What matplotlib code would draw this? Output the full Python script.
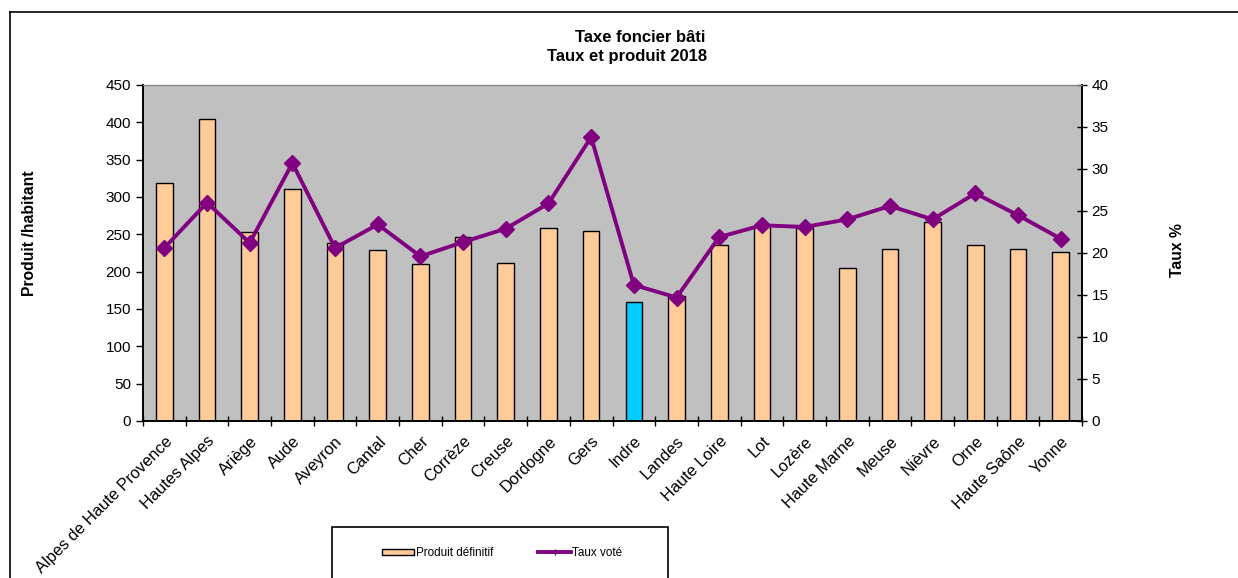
import numpy as np
import matplotlib.pyplot as plt
from matplotlib.patches import Rectangle
from matplotlib.lines import Line2D

plt.rcParams['font.family'] = ['Liberation Sans', 'DejaVu Sans']

departements = ["Alpes de Haute Provence", "Hautes Alpes", "Ariège", "Aude", "Aveyron",
                "Cantal", "Cher", "Corrèze", "Creuse", "Dordogne", "Gers", "Indre",
                "Landes", "Haute Loire", "Lot", "Lozère", "Haute Marne", "Meuse",
                "Nièvre", "Orne", "Haute Saône", "Yonne"]
produit = [319, 405, 253, 311, 239, 229, 210, 247, 212, 258, 255, 160,
           167, 236, 262, 259, 205, 230, 266, 236, 230, 227]
taux = [20.6, 26.0, 21.2, 30.7, 20.6, 23.4, 19.6, 21.3, 22.9, 25.9, 33.8, 16.2,
        14.7, 21.9, 23.3, 23.1, 24.0, 25.6, 24.0, 27.1, 24.5, 21.7]
highlight = "Indre"

W, H = 1238, 578
fig = plt.figure(figsize=(W / 100, H / 100), dpi=100)
ax = fig.add_axes([143 / W, 1 - 421 / H, (1082 - 143) / W, (421 - 85) / H])
ax2 = ax.twinx()

x = np.arange(len(departements))
colors = ['#00CCFF' if d == highlight else '#FFCC99' for d in departements]
ax.set_facecolor('#C0C0C0')
ax.bar(x, produit, width=0.39, color=colors, edgecolor='black', linewidth=1, zorder=2)
ax2.plot(x, taux, color='#800080', linewidth=2.8, marker='D', markersize=8,
         markeredgecolor='#800080', zorder=3)

ax.set_xlim(-0.5, len(departements) - 0.5)
ax.set_ylim(0, 450)
ax.set_yticks(np.arange(0, 451, 50))
ax2.set_ylim(0, 40)
ax2.set_yticks(np.arange(0, 41, 5))

ax.set_xticks(x)
ax.set_xticklabels(departements, rotation=45, ha='right', va='top',
                   rotation_mode='anchor', fontsize=11.8)
ax.set_xticks(np.arange(-0.5, len(departements), 1), minor=True)
ax.tick_params(axis='x', which='major', length=0, pad=9)
ax.tick_params(axis='x', which='minor', length=7, direction='inout', width=1)
ax.tick_params(axis='y', length=5, direction='out', width=1, labelsize=11)
ax2.tick_params(axis='y', length=7, direction='inout', width=1, labelsize=11)

for a in (ax, ax2):
    a.spines['top'].set_color('#808080')
    a.spines['left'].set_linewidth(1.2)
    a.spines['bottom'].set_linewidth(1.2)
    a.spines['right'].set_linewidth(1.2)

fig.text(640 / W, 1 - 37 / H, "Taxe foncier bâti", ha='center', va='center',
         fontsize=12, fontweight='bold')
fig.text(627 / W, 1 - 57 / H, "Taux et produit 2018", ha='center', va='center',
         fontsize=12, fontweight='bold')
fig.text(30 / W, 1 - 233 / H, "Produit /habitant", rotation=90, ha='center',
         va='center', fontsize=11.3, fontweight='bold')
fig.text(1178 / W, 1 - 250 / H, "Taux %", rotation=90, ha='center',
         va='center', fontsize=11.3, fontweight='bold')

# outer frame of the chart
fig.add_artist(Line2D([10 / W, 10 / W], [0, 1 - 12 / H], color='black', lw=1.2,
                      transform=fig.transFigure))
fig.add_artist(Line2D([10 / W, 1], [1 - 12 / H, 1 - 12 / H], color='black', lw=1.2,
                      transform=fig.transFigure))

# legend box (runs past the bottom edge)
fig.add_artist(Rectangle((332 / W, -0.05), (668 - 332) / W, 0.05 + (578 - 527) / H,
                         transform=fig.transFigure, facecolor='white',
                         edgecolor='black', lw=1.2))
handles = [Rectangle((0, 0), 1, 1, facecolor='#FFCC99', edgecolor='black'),
           Line2D([], [], color='#800080', lw=2.8, marker='+', markersize=4)]
fig.legend(handles, ["Produit définitif", "Taux voté"], loc='center',
           bbox_to_anchor=(502 / W, 1 - 553 / H), ncol=2, frameon=False,
           fontsize=8.4, handlelength=2.8, handleheight=0.5, columnspacing=3.9,
           handletextpad=0.1)

fig.savefig('out.png', dpi=100)
